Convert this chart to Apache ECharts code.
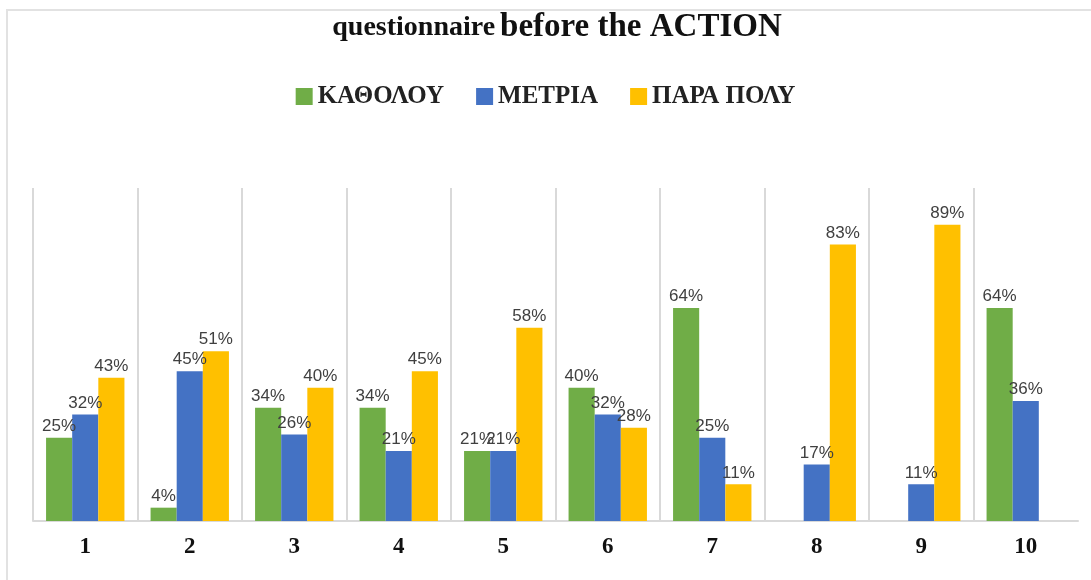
<!DOCTYPE html>
<html>
<head>
<meta charset="utf-8">
<script src="https://cdn.jsdelivr.net/npm/echarts@6/dist/echarts.min.js"></script>
<style>
  html, body { margin: 0; padding: 0; background: #fff; }
  #main { width: 1091px; height: 580px; }
</style>
</head>
<body>
<div id="main"></div>
<script>
// categories and values (null = no bar)
const questions = ["1", "2", "3", "4", "5", "6", "7", "8", "9", "10"];
const katholou = [25, 4, 34, 34, 21, 40, 64, null, null, 64];
const metria = [32, 45, 26, 21, 21, 32, 25, 17, 11, 36];
const paraPoly = [43, 51, 40, 45, 58, 28, 11, 83, 89, null];
const seriesNames = ["ΚΑΘΟΛΟΥ", "ΜΕΤΡΙΑ", "ΠΑΡΑ ΠΟΛΥ"];
const colors = ["#70AD47", "#4472C4", "#FFC000"];

const serif = '"Liberation Serif", "DejaVu Serif", serif';
const sans = '"Liberation Sans", Arial, sans-serif';

// grid lines at every category boundary except the last one
const splitColors = questions.map(() => "#d9d9d9").concat(["rgba(0,0,0,0)"]);

function barSeries(name, data, color) {
  return {
    name: name,
    type: "bar",
    data: data,
    barGap: "0%",
    barCategoryGap: "25%",
    itemStyle: { color: color },
    label: {
      show: true,
      position: "top",
      distance: 3,
      formatter: "{c}%",
      fontFamily: sans,
      fontSize: 17,
      color: "#404040"
    }
  };
}

const chart = echarts.init(document.getElementById("main"));
chart.setOption({
  animation: false,
  backgroundColor: "#fff",
  title: {
    text: "{a|questionnaire} {b|before the ACTION}",
    left: 552,
    textAlign: "center",
    top: 6,
    textStyle: {
      rich: {
        a: { fontFamily: serif, fontWeight: "bold", fontSize: 28, color: "#111" },
        b: { fontFamily: serif, fontWeight: "bold", fontSize: 33, color: "#111" }
      }
    }
  },
  legend: {
    data: seriesNames,
    top: 79,
    left: "center",
    itemWidth: 17,
    itemHeight: 17,
    itemGap: 32,
    icon: "rect",
    textStyle: {
      fontFamily: serif,
      fontWeight: "bold",
      fontSize: 25,
      color: "#222"
    }
  },
  graphic: [
    {
      type: "polyline",
      shape: { points: [[7, 580], [7, 10], [1091, 10]] },
      style: { stroke: "#e2e2e2", lineWidth: 2, fill: null }
    }
  ],
  grid: { left: 33, right: 13, top: 188, bottom: 59 },
  xAxis: {
    type: "category",
    data: questions,
    axisLine: { lineStyle: { color: "#d9d9d9", width: 2 } },
    axisTick: { show: false },
    axisLabel: {
      fontFamily: serif,
      fontWeight: "bold",
      fontSize: 23,
      color: "#111",
      margin: 15
    },
    splitLine: {
      show: true,
      interval: 0,
      lineStyle: { color: splitColors, width: 2 }
    }
  },
  yAxis: {
    type: "value",
    min: 0,
    max: 100,
    show: false,
    splitLine: { show: false }
  },
  series: [
    barSeries(seriesNames[0], katholou, colors[0]),
    barSeries(seriesNames[1], metria, colors[1]),
    barSeries(seriesNames[2], paraPoly, colors[2])
  ]
});
</script>
</body>
</html>
